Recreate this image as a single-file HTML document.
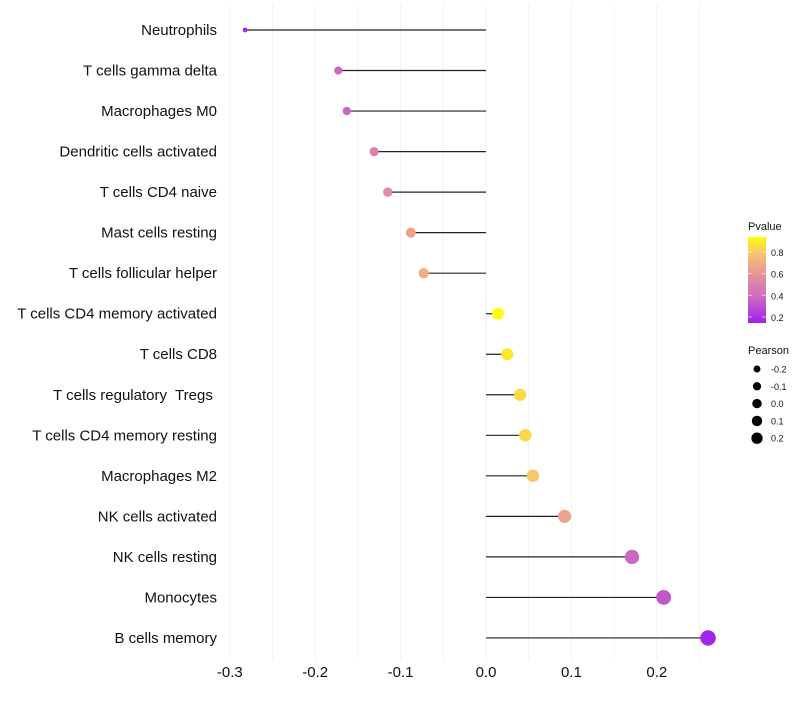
<!DOCTYPE html>
<html><head><meta charset="utf-8"><style>
body{margin:0;background:#fff;font-family:"Liberation Sans",sans-serif}
svg text{white-space:pre}
</style></head><body>
<svg id="c" width="800" height="700" xmlns="http://www.w3.org/2000/svg" font-family="Liberation Sans, sans-serif" xml:space="preserve"></svg>
<script>
const categories=["Neutrophils","T cells gamma delta","Macrophages M0","Dendritic cells activated","T cells CD4 naive","Mast cells resting","T cells follicular helper","T cells CD4 memory activated","T cells CD8","T cells regulatory  Tregs ","T cells CD4 memory resting","Macrophages M2","NK cells activated","NK cells resting","Monocytes","B cells memory"];
const pearson=[-0.282,-0.173,-0.163,-0.131,-0.115,-0.088,-0.073,0.014,0.025,0.040,0.046,0.055,0.092,0.171,0.208,0.260];
const pvalues=[0.15,0.38,0.38,0.5,0.55,0.65,0.7,0.96,0.9,0.86,0.85,0.8,0.65,0.38,0.32,0.15];
const xTicks=[-0.3,-0.2,-0.1,0.0,0.1,0.2];
const xTickLabels=["-0.3","-0.2","-0.1","0.0","0.1","0.2"];
const pLegendVals=[0.2,0.4,0.6,0.8];
const sizeLegendVals=[-0.2,-0.1,0.0,0.1,0.2];

const svg=document.getElementById('c');
const NS="http://www.w3.org/2000/svg";
function mk(t,a,parent){const e=document.createElementNS(NS,t);for(const k in a)e.setAttribute(k,a[k]);(parent||svg).appendChild(e);return e;}
const xS=v=>486+v*854;
const yS=i=>30+i*40.53;
const rS=v=>Math.sqrt(Math.max(2.5,34+100*v));
const stops=[[0.13,[160,32,240]],[0.4,[208,110,190]],[0.6,[232,150,150]],[0.8,[246,200,110]],[0.97,[255,255,0]]];
function col(p){if(p<=stops[0][0])return `rgb(${stops[0][1]})`;for(let i=1;i<stops.length;i++){if(p<=stops[i][0]){const a=stops[i-1],b=stops[i],t=(p-a[0])/(b[0]-a[0]);return 'rgb('+a[1].map((c,j)=>Math.round(c+(b[1][j]-c)*t)).join(',')+')';}}return `rgb(${stops[stops.length-1][1]})`;}

for(let v=-0.3;v<=0.26;v+=0.05){
  const g=mk('line',{x1:xS(v),x2:xS(v),y1:5,y2:660,stroke:'#f2f2f2','stroke-width':1});
  
  
}
xTicks.forEach((v,i)=>{
  const t=mk('text',{x:xS(v),y:677,'text-anchor':'middle','font-size':15,fill:'#111'});
  t.textContent=xTickLabels[i];
  
  
});
categories.forEach((c,i)=>{
  const y=yS(i);
  const t=mk('text',{x:217,y:y+5,'text-anchor':'end','font-size':15,fill:'#111'});
  t.textContent=c;
  
  
  const l=mk('line',{x1:xS(0),x2:xS(pearson[i]),y1:y,y2:y,stroke:'#222','stroke-width':1.2});
  
  
  const p=mk('circle',{cx:xS(pearson[i]),cy:y,r:rS(pearson[i]),fill:col(pvalues[i])});
  
  
});
const lt=mk('text',{x:748,y:230,'font-size':11,fill:'#111'});lt.textContent='Pvalue';


const defs=mk('defs',{});
const lg=mk('linearGradient',{id:'pg',x1:0,y1:1,x2:0,y2:0},defs);
const pY=p=>317-(p-0.2)*(65/0.6);
const y0=237,y1=323;
stops.forEach(s=>{mk('stop',{offset:((pY(s[0])-y1)/(y0-y1)),'stop-color':`rgb(${s[1]})`},lg);});
const bar=mk('rect',{x:748,y:y0,width:18,height:y1-y0,fill:'url(#pg)'});


pLegendVals.forEach(v=>{
  mk('line',{x1:748,x2:752,y1:pY(v),y2:pY(v),stroke:'#fff','stroke-opacity':0.6});
  mk('line',{x1:762,x2:766,y1:pY(v),y2:pY(v),stroke:'#fff','stroke-opacity':0.6});
  const t=mk('text',{x:771,y:pY(v)+4,'font-size':9,fill:'#111'});t.textContent=v.toFixed(1);
  
  
});
const st=mk('text',{x:748,y:354,'font-size':11,fill:'#111'});st.textContent='Pearson';


sizeLegendVals.forEach((v,i)=>{
  const y=369+i*17.3;
  const c=mk('circle',{cx:757,cy:y,r:Math.sqrt(Math.max(2.5,22+50*v)),fill:'#000'});
  
  
  const t=mk('text',{x:771,y:y+3.5,'font-size':9,fill:'#111'});t.textContent=v.toFixed(1);
  
  
});
</script>
</body></html>
